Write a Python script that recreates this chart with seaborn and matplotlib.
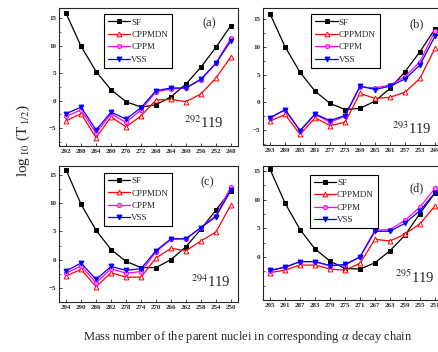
import numpy as np
import pandas as pd
import matplotlib
matplotlib.use("Agg")
import matplotlib.pyplot as plt
import seaborn as sns

# ----------------------------------------
# Data (log10 T1/2)
# ----------------------------------------
mass_292 = [292, 288, 284, 280, 276, 272, 268, 264, 260, 256, 252, 248]
sf_292 = [15.9, 9.9, 5.3, 1.95, -0.2, -1.2, -0.8, 0.7, 3.0, 6.1, 9.7, 13.7]
cppmdn_292 = [-3.7, -2.4, -6.8, -3.0, -4.8, -2.8, 0.1, 0.2, -0.2, 1.2, 4.1, 8.0]
cppm_292 = [-2.9, -1.7, -6.0, -2.4, -4.0, -1.7, 1.6, 2.1, 2.3, 3.8, 6.8, 11.4]
vss_292 = [-2.4, -1.2, -5.4, -2.1, -3.4, -1.3, 1.8, 2.3, 2.3, 3.9, 6.8, 10.9]

mass_293 = [293, 289, 285, 281, 277, 273, 269, 265, 261, 257, 253, 249]
sf_293 = [15.9, 10.0, 5.4, 2.0, -0.2, -1.3, -1.1, 0.2, 2.5, 5.5, 9.1, 13.2]
cppmdn_293 = [-3.4, -2.2, -5.8, -2.8, -4.2, -3.6, 1.6, 0.7, 0.9, 1.8, 4.3, 9.7]
cppm_293 = [-2.8, -1.4, -5.2, -2.2, -3.6, -2.5, 2.8, 2.6, 3.1, 4.6, 7.3, 12.8]
vss_293 = [-2.8, -1.3, -5.1, -2.1, -3.3, -2.4, 2.9, 2.3, 2.9, 4.2, 6.7, 11.9]

mass_294 = [294, 290, 286, 282, 278, 274, 270, 266, 262, 258, 254, 250]
sf_294 = [15.9, 9.8, 5.2, 1.8, -0.3, -1.4, -1.4, 0.0, 2.3, 5.4, 8.8, 12.2]
cppmdn_294 = [-2.9, -1.7, -4.8, -2.3, -3.1, -3.1, 0.3, 2.0, 1.6, 3.3, 4.9, 9.7]
cppm_294 = [-2.4, -1.1, -4.1, -1.6, -2.4, -2.1, 1.4, 3.6, 3.7, 5.7, 7.8, 12.9]
vss_294 = [-2.0, -0.6, -3.5, -1.2, -1.9, -1.6, 1.6, 3.7, 3.7, 5.7, 7.6, 12.3]

mass_295 = [295, 291, 287, 283, 279, 275, 271, 267, 263, 259, 255, 251]
sf_295 = [15.3, 9.4, 4.8, 1.4, -0.7, -2.0, -2.1, -1.0, 1.1, 3.8, 7.6, 11.2]
cppmdn_295 = [-2.7, -2.3, -1.4, -1.4, -2.1, -2.3, -1.1, 3.1, 2.8, 4.0, 5.8, 8.9]
cppm_295 = [-2.4, -1.7, -0.8, -0.8, -1.5, -1.4, 0.05, 4.7, 4.8, 6.4, 8.7, 12.0]
vss_295 = [-2.3, -1.8, -0.8, -0.8, -1.5, -1.3, 0.0, 4.5, 4.5, 5.9, 8.1, 11.2]

panels = [
    ("(a)", "292", mass_292, sf_292, cppmdn_292, cppm_292, vss_292),
    ("(b)", "293", mass_293, sf_293, cppmdn_293, cppm_293, vss_293),
    ("(c)", "294", mass_294, sf_294, cppmdn_294, cppm_294, vss_294),
    ("(d)", "295", mass_295, sf_295, cppmdn_295, cppm_295, vss_295),
]

# ----------------------------------------
# Style
# ----------------------------------------
sns.set_style("ticks")
plt.rcParams['font.family'] = ['Liberation Serif', 'DejaVu Serif']
plt.rcParams['mathtext.fontset'] = 'stix'
plt.rcParams['xtick.direction'] = 'in'
plt.rcParams['ytick.direction'] = 'in'

series_style = {
    'SF': dict(color='black', marker='s', markersize=2.5, mfc='black', mec='black'),
    'CPPMDN': dict(color='#ff0000', marker='^', markersize=3.5, mfc='white', mec='#ff0000'),
    'CPPM': dict(color='#ff00ff', marker='o', markersize=3, mfc='#ff88ff', mec='#ff00ff'),
    'VSS': dict(color='#0000ff', marker='v', markersize=3.5, mfc='#0000ff', mec='#0000ff'),
}

W, H = 438, 352
fig = plt.figure(figsize=(W / 100, H / 100), dpi=100)

# axes boxes in pixels: left, top, width, height
boxes = [(59, 8, 179, 138), (263, 8, 179, 137), (59, 166, 179, 136), (263, 166, 179, 134)]
ylims = [(-8.3, 16.9), (-7.7, 17.0), (-6.6, 16.6), (-3.5, 15.9)]
legend_pos = [(0.25, 0.955), (0.27, 0.955), (0.25, 0.95), (0.26, 0.935)]
label_pos = [(0.84, 0.89), (0.86, 0.88), (0.83, 0.88), (0.86, 0.83)]
nuc_pos = [(0.70, 0.17), (0.72, 0.12), (0.74, 0.15), (0.74, 0.17)]

for i, (tag, nuc, mass, sf, cppmdn, cppm, vss) in enumerate(panels):
    l, t, w, h = boxes[i]
    ax = fig.add_axes([l / W, 1 - (t + h) / H, w / W, h / H])
    df = pd.DataFrame({'A': mass, 'SF': sf, 'CPPMDN': cppmdn, 'CPPM': cppm, 'VSS': vss})
    for name in ['SF', 'CPPMDN', 'CPPM', 'VSS']:
        st = series_style[name]
        sns.lineplot(data=df, x='A', y=name, ax=ax, label=name, color=st['color'],
                     marker=st['marker'], markersize=st['markersize'],
                     markerfacecolor=st['mfc'], markeredgecolor=st['mec'],
                     markeredgewidth=0.7, linewidth=0.9)
    ax.set_xlim(mass[0] + 1.9, mass[-1] - 1.9)
    ax.set_ylim(*ylims[i])
    ax.set_xticks(mass)
    ax.set_xticklabels([str(m) for m in mass])
    yt = [v for v in [-5, 0, 5, 10, 15] if ylims[i][0] <= v <= ylims[i][1]]
    ax.set_yticks(yt)
    ax.set_yticks(np.arange(-7.5, 17, 2.5), minor=True)
    ax.tick_params(axis='both', which='major', labelsize=5, length=2.5, width=0.6, pad=2)
    ax.tick_params(axis='y', which='minor', length=1.5, width=0.5)
    for lab in ax.get_xticklabels() + ax.get_yticklabels():
        lab.set_fontweight('bold')
    for sp in ax.spines.values():
        sp.set_linewidth(0.8)
    ax.set_xlabel("")
    ax.set_ylabel("")
    leg = ax.legend(loc='upper left', bbox_to_anchor=legend_pos[i], fontsize=6.5,
                    frameon=True, fancybox=False, edgecolor='black', framealpha=1,
                    handlelength=2.5, handletextpad=0.1, labelspacing=0.45,
                    borderpad=0.45, borderaxespad=0)
    leg.get_frame().set_linewidth(0.8)
    ax.text(*label_pos[i], tag, transform=ax.transAxes, fontsize=9, ha='center', va='center')
    ax.text(*nuc_pos[i], r'$^{%s}$119' % nuc, transform=ax.transAxes, fontsize=10.5,
            ha='left', va='center')

fig.text(0.053, 0.60, r'log$_{\,10}$ (T$_{\,1/2}$)', rotation=90, fontsize=11,
         ha='center', va='center')
fig.text(0.566, 0.043, r'Mass number of the parent nuclei in corresponding $\alpha$ decay chain',
         fontsize=9, ha='center', va='center')

fig.savefig("out.png", dpi=100)
